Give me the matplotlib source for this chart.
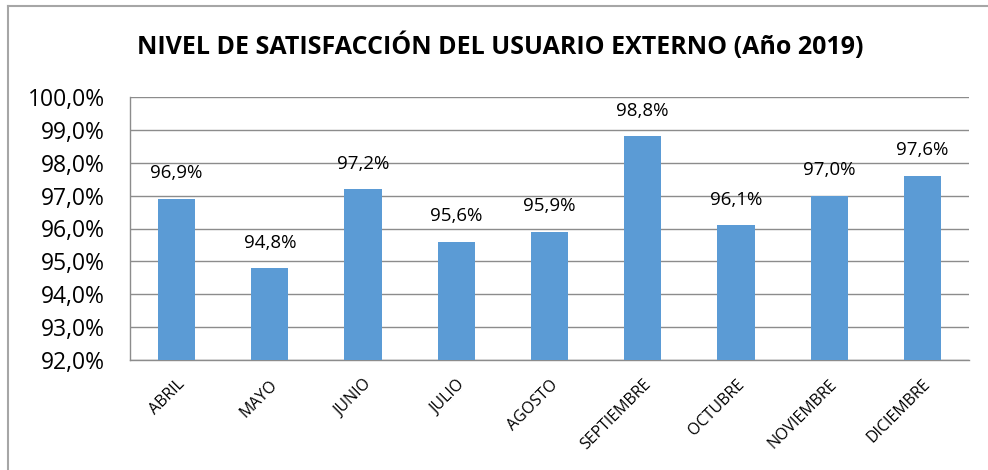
import numpy as np
import matplotlib.pyplot as plt
from matplotlib.lines import Line2D

meses = ["ABRIL", "MAYO", "JUNIO", "JULIO", "AGOSTO", "SEPTIEMBRE",
         "OCTUBRE", "NOVIEMBRE", "DICIEMBRE"]
satisfaccion = [96.9, 94.8, 97.2, 95.6, 95.9, 98.8, 96.1, 97.0, 97.6]
y_ticks = [92, 93, 94, 95, 96, 97, 98, 99, 100]


def fmt(v):
    return f"{v:.1f}%".replace(".", ",")


def main():
    plt.rcParams["font.family"] = ["Open Sans", "DejaVu Sans"]
    fig = plt.figure(figsize=(9.88, 4.70), dpi=100)
    ax = fig.add_axes([130 / 988, 1 - 360 / 470, 839 / 988, 263 / 470])

    x = np.arange(len(meses))
    ax.bar(x, satisfaccion, width=0.4, color="#5B9BD5", zorder=3)
    for xi, v in zip(x, satisfaccion):
        ax.text(xi, v + 0.5, fmt(v), ha="center", va="bottom", fontsize=13.5)

    ax.set_ylim(92, 100)
    ax.set_xlim(-0.5, len(meses) - 0.5)
    ax.set_yticks(y_ticks)
    ax.set_yticklabels([fmt(t) for t in y_ticks], fontsize=16.5)
    ax.set_xticks(x)
    ax.set_xticklabels(meses, rotation=45, ha="right", rotation_mode="anchor",
                       fontsize=11.5)
    ax.tick_params(length=0)
    ax.tick_params(axis="y", pad=18)
    ax.tick_params(axis="x", pad=12)
    ax.grid(axis="y", color="#8c8c8c", linewidth=1, zorder=0)
    for s in ["top", "right"]:
        ax.spines[s].set_visible(False)
    for s in ["left", "bottom"]:
        ax.spines[s].set_color("#8c8c8c")
        ax.spines[s].set_linewidth(1)

    fig.text(500 / 988, 1 - 46 / 470, "NIVEL DE SATISFACCIÓN DEL USUARIO EXTERNO (Año 2019)",
             ha="center", va="center", fontsize=18, fontweight="bold")

    # outer chart border (only left and top visible in the crop)
    fig.add_artist(Line2D([8 / 988, 8 / 988], [0, 1 - 6 / 470],
                          transform=fig.transFigure, color="#a6a6a6", linewidth=1.5))
    fig.add_artist(Line2D([8 / 988, 1], [1 - 6 / 470, 1 - 6 / 470],
                          transform=fig.transFigure, color="#a6a6a6", linewidth=1.5))

    fig.savefig("out.png", dpi=100)


if __name__ == "__main__":
    main()
